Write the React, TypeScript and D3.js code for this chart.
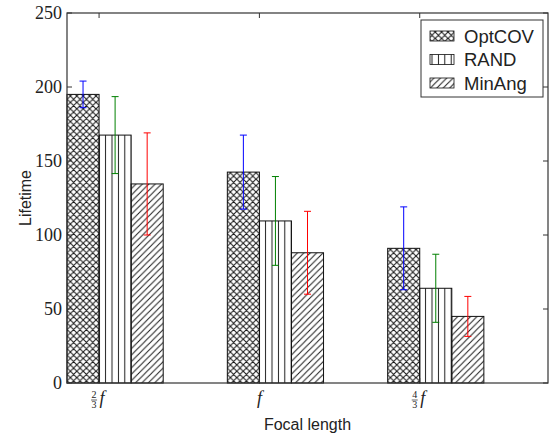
import React from 'react';
import * as d3 from 'd3';

const width = 550;
const height = 436;

// focal length categories, drawn as fraction + italic f
const categories = [
  { num: '2', den: '3' },
  { num: '', den: '' },
  { num: '4', den: '3' },
];
const seriesNames = ['OptCOV', 'RAND', 'MinAng'];
const optcov = [195, 142.5, 91];
const optcovErr = [9, 25, 28];
const rand = [167.5, 109.5, 64];
const randErr = [26, 30, 23];
const minang = [134.5, 88, 45];
const minangErr = [34.5, 28, 13.5];
const yTicks = [0, 50, 100, 150, 200, 250];

const series = [
  { name: seriesNames[0], values: optcov, err: optcovErr, pattern: 'hatch-x', errColor: '#0000ff' },
  { name: seriesNames[1], values: rand, err: randErr, pattern: 'hatch-v', errColor: '#008000' },
  { name: seriesNames[2], values: minang, err: minangErr, pattern: 'hatch-d', errColor: '#ff0000' },
];

const margin = { left: 67, right: 548, top: 13, bottom: 383 };
const barW = 0.2;

const App = () => {
  const x = d3.scaleLinear().domain([0, 3]).range([margin.left, margin.right]);
  const y = d3.scaleLinear().domain([0, 250]).range([margin.bottom, margin.top]);
  const s = 6.4;
  const tickLen = 5;
  const frame = '#333';

  return (
    <svg
      width={width}
      height={height}
      style={{ position: 'absolute', left: 0, top: 0, background: '#fff' }}
    >
      <defs>
        <pattern id="hatch-d" patternUnits="userSpaceOnUse" width={s} height={s}>
          <path
            d={`M0,${s} L${s},0 M${-s / 2},${s / 2} L${s / 2},${-s / 2} M${s / 2},${s * 1.5} L${s * 1.5},${s / 2}`}
            stroke="#1a1a1a"
            strokeWidth={1}
          />
        </pattern>
        <pattern id="hatch-x" patternUnits="userSpaceOnUse" width={s} height={s}>
          <path
            d={`M0,${s} L${s},0 M${-s / 2},${s / 2} L${s / 2},${-s / 2} M${s / 2},${s * 1.5} L${s * 1.5},${s / 2}
                M0,0 L${s},${s} M${-s / 2},${s / 2} L${s / 2},${s * 1.5} M${s / 2},${-s / 2} L${s * 1.5},${s / 2}`}
            stroke="#1a1a1a"
            strokeWidth={1.1}
          />
        </pattern>
        <pattern id="hatch-v" patternUnits="userSpaceOnUse" width={s} height={s}>
          <path d={`M${s / 2},0 L${s / 2},${s}`} stroke="#1a1a1a" strokeWidth={1} />
        </pattern>
      </defs>

      {/* bars */}
      {series.map((se, si) =>
        se.values.map((v, ci) => (
          <rect
            key={`${si}-${ci}`}
            x={x(ci + si * barW)}
            y={y(v)}
            width={x(barW) - x(0)}
            height={y(0) - y(v)}
            fill={`url(#${se.pattern})`}
            stroke="#111"
            strokeWidth={1}
          />
        ))
      )}

      {/* error bars */}
      {series.map((se, si) =>
        se.values.map((v, ci) => {
          const cx = x(ci + si * barW + barW / 2);
          const e = se.err[ci];
          return (
            <g key={`e${si}-${ci}`} stroke={se.errColor} strokeWidth={1}>
              <line x1={cx} x2={cx} y1={y(v - e)} y2={y(v + e)} />
              <line x1={cx - 3.5} x2={cx + 3.5} y1={y(v + e)} y2={y(v + e)} />
              <line x1={cx - 3.5} x2={cx + 3.5} y1={y(v - e)} y2={y(v - e)} />
            </g>
          );
        })
      )}

      {/* frame */}
      <rect
        x={margin.left}
        y={margin.top}
        width={margin.right - margin.left}
        height={margin.bottom - margin.top}
        fill="none"
        stroke={frame}
        strokeWidth={1.2}
      />

      {/* y ticks */}
      {yTicks.map((t) => (
        <g key={`y${t}`}>
          <line x1={margin.left} x2={margin.left + tickLen} y1={y(t)} y2={y(t)} stroke={frame} />
          <line x1={margin.right} x2={margin.right - tickLen} y1={y(t)} y2={y(t)} stroke={frame} />
          <text
            x={margin.left - 5}
            y={y(t)}
            dy="0.35em"
            textAnchor="end"
            fontFamily="Liberation Serif"
            fontSize={18}
            fill="#222"
          >
            {t}
          </text>
        </g>
      ))}

      {/* x ticks */}
      {categories.map((c, ci) => {
        const tx = x(ci + barW);
        const ly = 404;
        return (
          <g key={`x${ci}`}>
            <line x1={tx} x2={tx} y1={margin.bottom} y2={margin.bottom - tickLen} stroke={frame} />
            <line x1={tx} x2={tx} y1={margin.top} y2={margin.top + tickLen} stroke={frame} />
            {c.num ? (
              <g fontFamily="Liberation Serif" fill="#222">
                <text x={tx - 5} y={ly - 6} fontSize={10} textAnchor="middle">
                  {c.num}
                </text>
                <line x1={tx - 8} x2={tx - 2} y1={ly - 4} y2={ly - 4} stroke="#222" strokeWidth={0.7} />
                <text x={tx - 5} y={ly + 4} fontSize={10} textAnchor="middle">
                  {c.den}
                </text>
                <text x={tx + 3} y={ly} fontSize={18} fontStyle="italic" textAnchor="middle">
                  f
                </text>
              </g>
            ) : (
              <text
                x={tx}
                y={ly}
                fontSize={18}
                fontStyle="italic"
                fontFamily="Liberation Serif"
                textAnchor="middle"
                fill="#222"
              >
                f
              </text>
            )}
          </g>
        );
      })}

      {/* axis labels */}
      <text
        x={(margin.left + margin.right) / 2}
        y={430}
        textAnchor="middle"
        fontFamily="Liberation Sans"
        fontSize={16}
        fill="#222"
      >
        Focal length
      </text>
      <text
        transform={`translate(31,${(margin.top + margin.bottom) / 2}) rotate(-90)`}
        textAnchor="middle"
        fontFamily="Liberation Sans"
        fontSize={16}
        fill="#222"
      >
        Lifetime
      </text>

      {/* legend */}
      <g>
        <rect x={421} y={20} width={122} height={77} fill="#fff" stroke={frame} strokeWidth={1} />
        {series.map((se, i) => {
          const ry = 36 + i * 23.5;
          return (
            <g key={`l${i}`}>
              <rect
                x={430}
                y={ry - 5}
                width={24}
                height={10}
                fill={`url(#${se.pattern})`}
                stroke="#111"
                strokeWidth={0.8}
              />
              <text
                x={464}
                y={ry}
                dy="0.36em"
                fontFamily="Liberation Sans"
                fontSize={18.5}
                fill="#222"
              >
                {se.name}
              </text>
            </g>
          );
        })}
      </g>
    </svg>
  );
};

export default App;
